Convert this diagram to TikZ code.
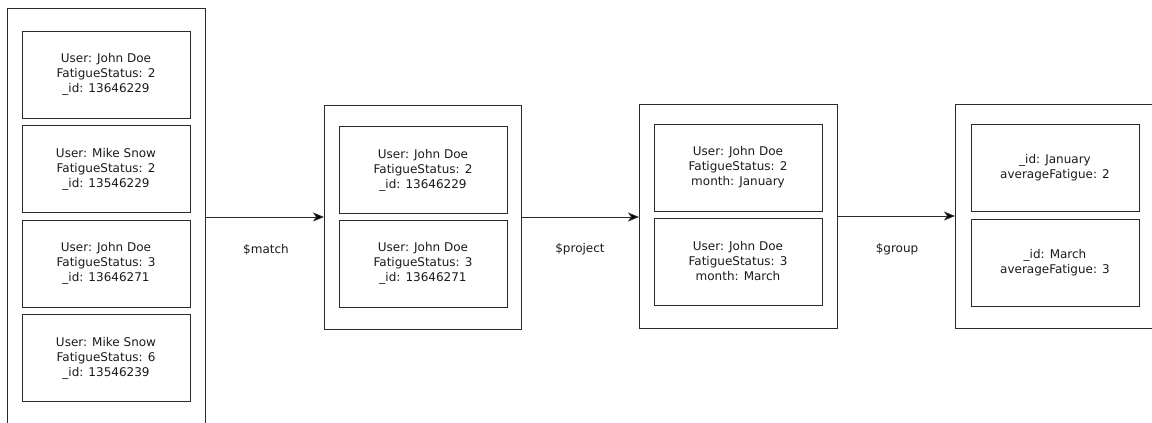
\documentclass[tikz,border=0pt]{standalone}
\usepackage{fontspec}
\setmainfont{DejaVu Sans}
\usetikzlibrary{arrows.meta}
\definecolor{ink}{HTML}{2A2A2A}
\definecolor{txt}{HTML}{1A1A1A}
\tikzset{
  stage/.style={draw=ink, line width=1pt, inner sep=0pt, outer sep=0pt, minimum height=224pt},
  doc/.style={draw=ink, line width=0.9pt, inner sep=0pt, outer sep=0pt,
              minimum width=168pt, minimum height=87pt, align=center,
              text=txt, font=\fontsize{12}{15}\selectfont},
  flow/.style={draw=ink, line width=0.9pt, -{Stealth[length=11pt,width=9pt,inset=3pt,fill=black]}},
  oplabel/.style={text=txt, font=\fontsize{12}{15}\selectfont, inner sep=0pt}
}
\begin{document}
\begin{tikzpicture}[x=1pt, y=-1pt]
  \useasboundingbox (0,0) rectangle (1152,423);

  % stage frames
  \node[stage, minimum width=198pt, minimum height=432pt] (b1) at (106,224) {};
  \node[stage, minimum width=197pt] (b2) at (422.5,217) {};
  \node[stage, minimum width=198pt] (b3) at (738,216) {};
  \node[stage, minimum width=215pt] (b4) at (1062.5,216) {};

  % input documents
  \node[doc] (d11) at (106,74.5) {User: John Doe\\FatigueStatus: 2\\\_id: 13646229};
  \node[doc] (d12) at (106,169) {User: Mike Snow\\FatigueStatus: 2\\\_id: 13546229};
  \node[doc] (d13) at (106,263.5) {User: John Doe\\FatigueStatus: 3\\\_id: 13646271};
  \node[doc] (d14) at (106,358) {User: Mike Snow\\FatigueStatus: 6\\\_id: 13546239};

  % after $match
  \node[doc] (d21) at (423,170) {User: John Doe\\FatigueStatus: 2\\\_id: 13646229};
  \node[doc] (d22) at (423,263.5) {User: John Doe\\FatigueStatus: 3\\\_id: 13646271};

  % after $project
  \node[doc] (d31) at (738,167.5) {User: John Doe\\FatigueStatus: 2\\month: January};
  \node[doc] (d32) at (738,261.5) {User: John Doe\\FatigueStatus: 3\\month: March};

  % after $group
  \node[doc] (d41) at (1055,167.5) {\_id: January\\averageFatigue: 2};
  \node[doc] (d42) at (1055,262.5) {\_id: March\\averageFatigue: 3};

  % pipeline arrows
  \draw[flow] (b2.west -| b1.east) -- (b2.west);
  \draw[flow] (b2.east) -- (b3.west |- b2.east);
  \draw[flow] (b3.east) -- (b4.west);

  % operator labels
  \node[oplabel] (l1) at (266,250) {\$match};
  \node[oplabel] (l2) at (580,249) {\$project};
  \node[oplabel] (l3) at (897,249) {\$group};
\end{tikzpicture}
\end{document}
